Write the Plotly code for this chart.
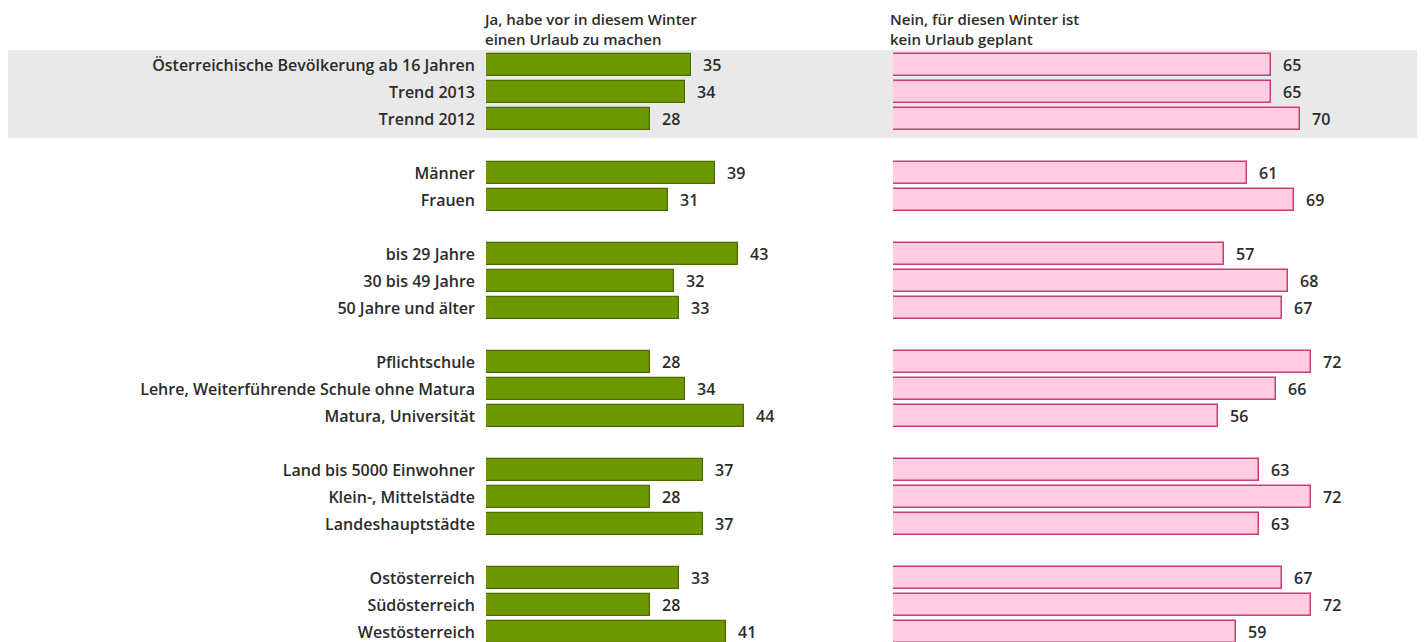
import plotly.graph_objects as go

categories = [
    "Österreichische Bevölkerung ab 16 Jahren", "Trend 2013", "Trennd 2012", None,
    "Männer", "Frauen", None,
    "bis 29 Jahre", "30 bis 49 Jahre", "50 Jahre und älter", None,
    "Pflichtschule", "Lehre, Weiterführende Schule ohne Matura", "Matura, Universität", None,
    "Land bis 5000 Einwohner", "Klein-, Mittelstädte", "Landeshauptstädte", None,
    "Ostösterreich", "Südösterreich", "Westösterreich",
]
ja = [35, 34, 28, None, 39, 31, None, 43, 32, 33, None, 28, 34, 44, None, 37, 28, 37, None, 33, 28, 41]
nein = [65, 65, 70, None, 61, 69, None, 57, 68, 67, None, 72, 66, 56, None, 63, 72, 63, None, 67, 72, 59]
header_ja = "Ja, habe vor in diesem Winter<br>einen Urlaub zu machen"
header_nein = "Nein, für diesen Winter ist<br>kein Urlaub geplant"

W, H = 1425, 642
OFF = 8  # page body margin
rows = list(range(len(categories)))
yv = [r for r, c in zip(rows, categories) if c is not None]
ja_v = [v for v in ja if v is not None]
nein_v = [v for v in nein if v is not None]
labels = [c for c in categories if c is not None]

FONT = "Open Sans"
FS = 16
WT = 600
TXT = "#2b2b2b"

def f(size=FS):
    return dict(family=FONT, size=size, color=TXT, weight=WT)

fig = go.Figure()
fig.add_trace(go.Bar(x=ja_v, y=yv, orientation="h", width=0.85,
                     marker=dict(color="#6e9800", line=dict(color="#4b6a00", width=1.2)),
                     xaxis="x", yaxis="y", showlegend=False, hoverinfo="x+y"))
fig.add_trace(go.Bar(x=nein_v, y=yv, orientation="h", width=0.85,
                     marker=dict(color="#ffcce0", line=dict(color="#cc3d73", width=1.5)),
                     xaxis="x2", yaxis="y2", showlegend=False, hoverinfo="x+y"))

annotations = []
for y, v in zip(yv, ja_v):
    annotations.append(dict(x=v, y=y, xref="x", yref="y", text=str(v), showarrow=False,
                            xanchor="left", xshift=10, font=f()))
for y, v in zip(yv, nein_v):
    annotations.append(dict(x=v, y=y, xref="x2", yref="y2", text=str(v), showarrow=False,
                            xanchor="left", xshift=10, font=f()))
for xpx, text in ((482, header_ja), (889, header_nein)):
    annotations.append(dict(x=(xpx - OFF) / W, y=1, xref="paper", yref="paper",
                            text=text, showarrow=False, xanchor="left", yanchor="top",
                            borderpad=0, align="left", font=f(15)))

px_row = 27.0
y0_px = 65.0 - OFF
yr = [(H - y0_px) / px_row, -y0_px / px_row]

d1s = (486 - OFF) / W
d1e = (486 - OFF + 5.86 * 60) / W
d2s = (893 - OFF) / W
d2e = (893 - OFF + 5.81 * 90) / W

fig.update_layout(
    width=W, height=H, margin=dict(l=0, r=0, t=0, b=0),
    paper_bgcolor="white", plot_bgcolor="rgba(0,0,0,0)",
    bargap=0,
    xaxis=dict(domain=[d1s, d1e], range=[0, 60], visible=False),
    xaxis2=dict(domain=[d2s, d2e], range=[0, 90], visible=False),
    yaxis=dict(range=yr, anchor="x", tickvals=yv, ticktext=labels, showgrid=False,
               zeroline=False, showline=False, ticks="", ticklabelstandoff=10,
               tickfont=f()),
    yaxis2=dict(range=yr, anchor="x2", visible=False),
    annotations=annotations,
    shapes=[dict(type="rect", xref="paper", yref="y", x0=0, x1=1, y0=-0.56, y1=2.7,
                 fillcolor="#e9e9e9", line=dict(width=0), layer="below")],
)

fig.write_html("out.html")
